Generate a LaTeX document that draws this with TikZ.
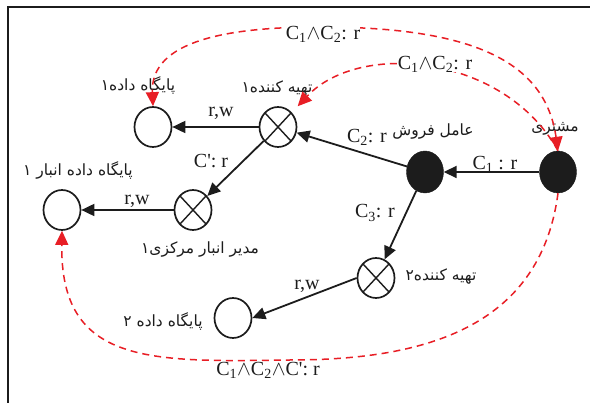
\documentclass[tikz,border=0pt]{standalone}
\usepackage{fontspec}
\setmainfont{Liberation Serif}
\newfontfamily\fa[Script=Arabic]{DejaVu Sans}
\TeXXeTstate=1
\usetikzlibrary{arrows.meta,shapes.geometric}
\definecolor{dashred}{RGB}{232,30,37}
\definecolor{ink}{RGB}{28,28,28}
\begin{document}
\begin{tikzpicture}[x=1pt,y=-1pt,
  dbnode/.style={ellipse, draw=ink, line width=1.7pt, minimum width=37pt, minimum height=40pt, inner sep=0pt},
  xnode/.style={dbnode, path picture={\draw[ink, line width=1.4pt]
      (path picture bounding box.north west) -- (path picture bounding box.south east)
      (path picture bounding box.south west) -- (path picture bounding box.north east);}},
  agent/.style={ellipse, draw=ink, fill=ink, minimum width=37pt, minimum height=42pt, inner sep=0pt},
  flow/.style={draw=ink, line width=1.8pt, -{Triangle[length=13pt,width=12pt]}},
  redline/.style={draw=dashred, line width=1.5pt, dash pattern=on 7pt off 5pt},
  redtip/.style={-{Triangle[length=14pt,width=13pt]}},
  lab/.style={font=\fontsize{20}{22}\selectfont, inner sep=0pt, text=ink},
  falab/.style={font=\fa\fontsize{15.5}{18}\selectfont, inner sep=0pt, text=ink}
]
\useasboundingbox (0,0) rectangle (590,403);
\fill[white] (0,0) rectangle (590,403);
\draw[ink, line width=2pt] (8,403) -- (8,7) -- (590,7);

% nodes
\node[dbnode] (db1) at (153,127) {};
\node[xnode] (sup1) at (278,127) {};
\node[xnode] (wm1) at (193,210) {};
\node[dbnode] (dbwh1) at (62,210) {};
\node[agent] (sales) at (425,172) {};
\node[agent] (cust) at (558,172) {};
\node[xnode] (sup2) at (376,278) {};
\node[dbnode] (db2) at (233,318) {};

% persian labels
\node[falab] (ldb1) at (138,85) {\beginR پایگاه داده۱\endR};
\node[falab] (lsup1) at (277,89) {\beginR تهیه کننده۱\endR};
\node[falab] (ldbwh1) at (78,170) {\beginR پایگاه داده انبار ۱\endR};
\node[falab] (lwm1) at (200,250) {\beginR مدیر انبار مرکزی۱\endR};
\node[falab] (lsales) at (433,132) {\beginR عامل فروش\endR};
\node[falab] (lcust) at (555,129) {\beginR مشتری\endR};
\node[falab] (lsup2) at (441,277) {\beginR تهیه کننده۲\endR};
\node[falab] (ldb2) at (163,321) {\beginR پایگاه داده  ۲\endR};

% black flows
\draw[flow] (sup1) -- (db1);
\draw[flow] (sup1) -- (wm1);
\draw[flow] (wm1) -- (dbwh1);
\draw[flow] (sales) -- (sup1);
\draw[flow] (cust) -- (sales);
\draw[flow] (sales) -- (sup2);
\draw[flow] (sup2.west) -- (db2.east);

\node[lab] (e1) at (221,113) {r,w};
\node[lab] (e2) at (211,161) {C\textquotesingle: r};
\node[lab] (e3) at (137,201) {r,w};
\node[lab] (e4) at (367,137) {C\textsubscript{2}: r};
\node[lab] (e5) at (495,164) {C\textsubscript{1} : r};
\node[lab] (e6) at (375,213) {C\textsubscript{3}: r};
\node[lab] (e7) at (307,286) {r,w};

% red dashed flows
\draw[redline, {Triangle[length=14pt,width=13pt]}-{Triangle[length=14pt,width=13pt]}]
  (cust.north) .. controls (545,60) and (470,27) .. (320,27)
  .. controls (230,27) and (150,40) .. (db1.north);
\draw[redline, redtip]
  (cust.north) .. controls (505,55) and (360,40) .. ([xshift=6pt,yshift=6pt]sup1.north east);
\draw[redline, redtip]
  (cust.south) .. controls (540,330) and (420,360) .. (290,360)
  .. controls (150,362) and (60,365) .. (dbwh1.south);

\node[lab, fill=white] (r1) at (323,34) {C\textsubscript{1}$\wedge$C\textsubscript{2}: r};
\node[lab, fill=white] (r2) at (435,64) {C\textsubscript{1}$\wedge$C\textsubscript{2}: r};
\node[lab] (r3) at (268,370) {C\textsubscript{1}$\wedge$C\textsubscript{2}$\wedge$C\textquotesingle: r};
\end{tikzpicture}
\end{document}
